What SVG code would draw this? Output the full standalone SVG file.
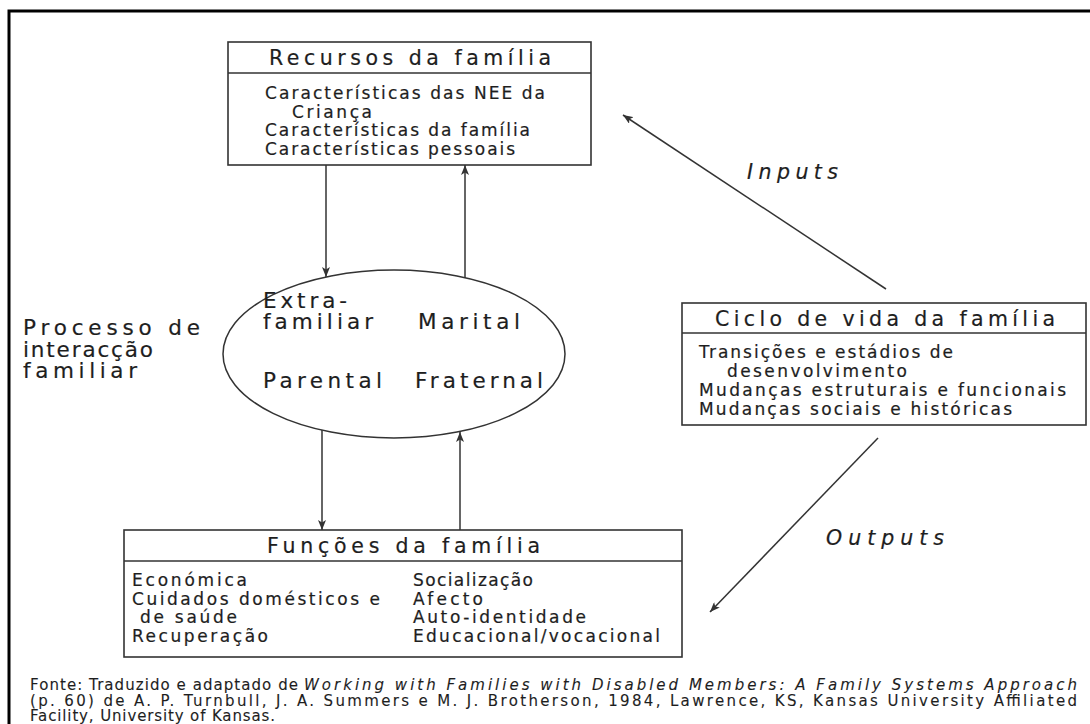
<svg xmlns="http://www.w3.org/2000/svg" width="1090" height="724" viewBox="0 0 1090 724">
<defs>
<style>
.box{fill:#fff;stroke:#333;stroke-width:1.6}
.div{stroke:#333;stroke-width:1.6}
.t{font-family:"DejaVu Sans","Open Sans",sans-serif;fill:#1e1e1e;stroke:#1e1e1e;stroke-width:0.2}
.h{font-size:20.5px}
.b{font-size:17px}
.c{font-size:21.5px}
.lab{font-size:20.5px;font-style:italic}
.f{font-size:15px;stroke-width:0.1}
.con{stroke:#333;stroke-width:1.5;fill:none;marker-end:url(#ah)}
</style>
<marker id="ah" markerUnits="userSpaceOnUse" markerWidth="11" markerHeight="8" refX="10" refY="4" orient="auto">
<path d="M0,0 L10,4 L0,8 L2.5,4 z" fill="#333"/>
</marker>
</defs>
<rect x="0" y="0" width="1090" height="724" fill="#fff"/>
<rect x="9" y="11" width="1100" height="740" fill="none" stroke="#000" stroke-width="3"/>

<g id="connectors">
<line class="con" x1="326" y1="165" x2="326" y2="277"/>
<line class="con" x1="465" y1="278" x2="465" y2="165"/>
<line class="con" x1="322" y1="430" x2="322" y2="530"/>
<line class="con" x1="460" y1="530" x2="460" y2="432"/>
<line class="con" x1="886" y1="289" x2="623" y2="115"/>
<line class="con" x1="878" y1="438" x2="710" y2="612"/>
<text class="t lab" x="747" y="179" textLength="91" lengthAdjust="spacing">Inputs</text>
<text class="t lab" x="826" y="545" textLength="118" lengthAdjust="spacing">Outputs</text>
</g>

<g id="recursos">
<rect class="box" x="228" y="42" width="363" height="123"/>
<line class="div" x1="228" y1="73" x2="591" y2="73"/>
<text class="t h" x="269" y="64.5" textLength="282" lengthAdjust="spacing">Recursos da família</text>
<text class="t b" x="265" y="99" textLength="280" lengthAdjust="spacing">Características das NEE da</text>
<text class="t b" x="292" y="117.5" textLength="80" lengthAdjust="spacing">Criança</text>
<text class="t b" x="265" y="136" textLength="265" lengthAdjust="spacing">Características da família</text>
<text class="t b" x="265" y="154.5" textLength="250" lengthAdjust="spacing">Características pessoais</text>
</g>

<g id="processo">
<text class="t c" x="23" y="335" textLength="177" lengthAdjust="spacing">Processo de</text>
<text class="t c" x="23" y="356.5" textLength="130" lengthAdjust="spacing">interacção</text>
<text class="t c" x="23" y="378" textLength="114" lengthAdjust="spacing">familiar</text>
</g>

<g id="interaccao">
<ellipse cx="394" cy="354" rx="171" ry="84" fill="#fff" stroke="#333" stroke-width="1.5"/>
<text class="t c" x="263" y="308" textLength="84" lengthAdjust="spacing">Extra-</text>
<text class="t c" x="263" y="329" textLength="110" lengthAdjust="spacing">familiar</text>
<text class="t c" x="418" y="329" textLength="102" lengthAdjust="spacing">Marital</text>
<text class="t c" x="263" y="388" textLength="119" lengthAdjust="spacing">Parental</text>
<text class="t c" x="415" y="388" textLength="128" lengthAdjust="spacing">Fraternal</text>
</g>

<g id="ciclo">
<rect class="box" x="682" y="303" width="404" height="122"/>
<line class="div" x1="682" y1="333" x2="1086" y2="333"/>
<text class="t h" x="715" y="325.5" textLength="340" lengthAdjust="spacing">Ciclo de vida da família</text>
<text class="t b" x="699" y="358" textLength="254" lengthAdjust="spacing">Transições e estádios de</text>
<text class="t b" x="727" y="377" textLength="180" lengthAdjust="spacing">desenvolvimento</text>
<text class="t b" x="699" y="396" textLength="367" lengthAdjust="spacing">Mudanças estruturais e funcionais</text>
<text class="t b" x="699" y="414.5" textLength="313" lengthAdjust="spacing">Mudanças sociais e históricas</text>
</g>

<g id="funcoes">
<rect class="box" x="124" y="530" width="558" height="127"/>
<line class="div" x1="124" y1="561" x2="682" y2="561"/>
<text class="t h" x="267" y="552.5" textLength="273" lengthAdjust="spacing">Funções da família</text>
<text class="t b" x="132" y="586" textLength="115" lengthAdjust="spacing">Económica</text>
<text class="t b" x="132" y="605" textLength="248" lengthAdjust="spacing">Cuidados domésticos e</text>
<text class="t b" x="140" y="623" textLength="97" lengthAdjust="spacing">de saúde</text>
<text class="t b" x="132" y="642" textLength="136" lengthAdjust="spacing">Recuperação</text>
<text class="t b" x="413" y="586" textLength="120" lengthAdjust="spacing">Socialização</text>
<text class="t b" x="413" y="605" textLength="70" lengthAdjust="spacing">Afecto</text>
<text class="t b" x="413" y="623" textLength="173" lengthAdjust="spacing">Auto-identidade</text>
<text class="t b" x="413" y="642" textLength="247" lengthAdjust="spacing">Educacional/vocacional</text>
</g>

<g id="fonte">
<text class="t f" x="30" y="690" textLength="268" lengthAdjust="spacing">Fonte: Traduzido e adaptado de</text>
<text class="t f" x="304" y="690" textLength="773" lengthAdjust="spacing" font-style="italic">Working with Families with Disabled Members: A Family Systems Approach</text>
<text class="t f" x="30" y="706" textLength="1047" lengthAdjust="spacing">(p. 60) de A. P. Turnbull, J. A. Summers e M. J. Brotherson, 1984, Lawrence, KS, Kansas University Affiliated</text>
<text class="t f" x="30" y="721" textLength="245" lengthAdjust="spacing">Facility, University of Kansas.</text>
</g>
</svg>
